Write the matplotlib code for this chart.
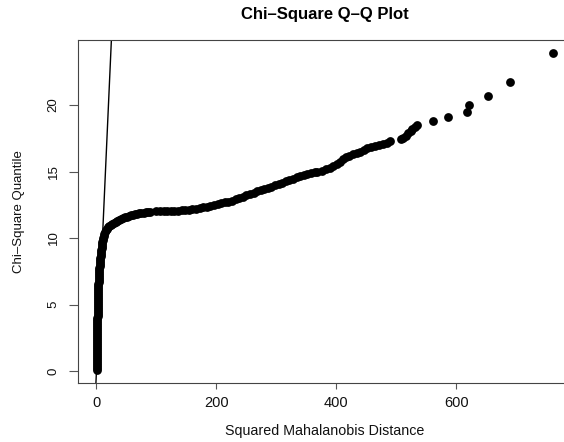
import matplotlib
matplotlib.use("Agg")
import matplotlib.pyplot as plt

# Squared Mahalanobis distances (sorted) and matching chi-square quantiles
mahal_d2 = [0.2, 0.3, 0.4, 0.5, 0.6, 0.65, 0.7, 0.75, 0.8, 0.85, 0.9, 0.95, 1.0,
            1.05, 1.1, 1.15, 1.2, 1.25, 1.3, 1.35, 1.4, 1.45, 1.5, 1.55, 1.6,
            1.65, 1.7, 1.75, 1.8, 1.85, 1.9, 1.95, 2.0, 2.05, 2.1, 2.2, 2.3, 2.4,
            2.5, 2.65, 2.8, 2.95, 3.1, 3.25, 3.4, 3.55, 3.7, 3.9, 4.1, 4.35, 4.6,
            4.85, 5.1, 5.45, 5.8, 6.15, 6.5, 6.9, 7.3, 7.7, 8.1, 8.55, 9.0, 9.5,
            10.0, 10.6, 11.2, 12.0, 12.8, 14.0, 15.5, 17.0, 19, 21.5, 24, 26.5,
            29, 32, 35, 38, 41, 44, 47, 50.5, 54, 57.5, 61, 64.5, 68, 71.5, 75,
            78.5, 82, 85.5, 89,
            100, 106, 112, 118, 124, 130, 136, 142, 148, 154, 160, 166, 172, 178,
            184, 190, 196, 202, 208, 214, 220, 226, 232, 238, 244, 250, 256, 262,
            268, 274, 280, 286, 292, 298, 304, 310, 316, 322, 328, 334, 340, 346,
            352, 358, 364, 368,
            377, 383, 389, 395, 401, 407, 411, 416, 422, 428, 434, 440, 446, 452,
            458, 465, 471, 478, 484, 490, 508, 512, 516, 520, 524, 527, 531, 535,
            562, 587, 618, 622, 653, 690, 762]
chisq_q = [0.07, 0.25, 0.4, 0.55, 0.7, 0.85, 1.0, 1.15, 1.3, 1.45, 1.6, 1.75,
           1.9, 2.05, 2.2, 2.35, 2.5, 2.65, 2.8, 2.95, 3.1, 3.25, 3.4, 3.55, 3.7,
           3.85, 4.0, 4.15, 4.3, 4.45, 4.6, 4.75, 4.9, 5.05, 5.2, 5.35, 5.5,
           5.65, 5.8, 5.95, 6.1, 6.25, 6.4, 6.55, 6.7, 6.85, 7.0, 7.15, 7.3,
           7.45, 7.6, 7.75, 7.9, 8.05, 8.2, 8.35, 8.5, 8.65, 8.8, 8.95, 9.1,
           9.25, 9.4, 9.55, 9.7, 9.85, 10.0, 10.15, 10.3, 10.45, 10.6, 10.7,
           10.8, 10.9, 11.0, 11.08, 11.15, 11.22, 11.3, 11.38, 11.45, 11.5,
           11.55, 11.6, 11.65, 11.7, 11.75, 11.78, 11.82, 11.85, 11.88, 11.9,
           11.92, 11.94, 11.96,
           12.0, 12.01, 12.02, 12.03, 12.04, 12.05, 12.07, 12.09, 12.11, 12.13,
           12.16, 12.2, 12.25, 12.3, 12.36, 12.42, 12.49, 12.57, 12.63, 12.68,
           12.73, 12.8, 12.9, 13.02, 13.12, 13.22, 13.32, 13.42, 13.52, 13.6,
           13.69, 13.78, 13.87, 13.97, 14.05, 14.16, 14.27, 14.37, 14.47, 14.57,
           14.65, 14.72, 14.82, 14.9, 14.97, 15.0,
           15.05, 15.18, 15.3, 15.42, 15.53, 15.7, 15.98, 16.1, 16.2, 16.3, 16.4,
           16.5, 16.6, 16.75, 16.85, 16.95, 17.0, 17.1, 17.15, 17.3, 17.45, 17.5,
           17.7, 17.9, 18.05, 18.2, 18.35, 18.5,
           18.8, 19.1, 19.5, 20.0, 20.7, 21.7, 23.9]

x_ticks = [0, 200, 400, 600]
y_ticks = [0, 5, 10, 15, 20]

plt.rcParams['font.family'] = ['Liberation Sans', 'DejaVu Sans']

W, H = 564, 442
fig = plt.figure(figsize=(W / 100, H / 100), dpi=100)
left_px, right_px, top_px, bottom_px = 78.3, 571.5, 40.4, 383.0
ax = fig.add_axes([left_px / W, 1 - bottom_px / H,
                   (right_px - left_px) / W, (bottom_px - top_px) / H])

ax.scatter(mahal_d2, chisq_q, s=40, color='black', linewidths=0, zorder=3)
ax.axline((0, 0), slope=1, color='black', lw=1.0, zorder=2)

ax.set_xlim(-30.3, 792.5)
ax.set_ylim(-0.9, 24.86)
ax.set_xticks(x_ticks)
ax.set_yticks(y_ticks)

for s in ax.spines.values():
    s.set_color('#444444')
    s.set_linewidth(0.8)
ax.spines['right'].set_visible(False)

ax.tick_params(axis='x', direction='out', length=4.5, width=0.8, color='#555555',
               labelsize=10.5, pad=5, labelcolor='#111111')
ax.tick_params(axis='y', direction='out', length=6.5, width=0.8, color='#555555',
               labelsize=9.5, pad=7, labelcolor='#111111', labelrotation=90)
for lab in ax.get_yticklabels():
    lab.set_va('center')

ax.set_xlabel('Squared Mahalanobis Distance', fontsize=10.3, color='#111111')
ax.xaxis.set_label_coords(0.5, (bottom_px - 431) / (bottom_px - top_px))
ax.xaxis.label.set_va('center')
ax.set_ylabel('Chi–Square Quantile', fontsize=9.5, color='#111111')
ax.yaxis.set_label_coords((19 - left_px) / (right_px - left_px), 0.5)
ax.yaxis.label.set_va('center')

ax.set_title('Chi–Square Q–Q Plot', fontsize=12, fontweight='bold',
             y=(bottom_px - 14) / (bottom_px - top_px), va='center', pad=0)

fig.savefig('out.png', dpi=100)
